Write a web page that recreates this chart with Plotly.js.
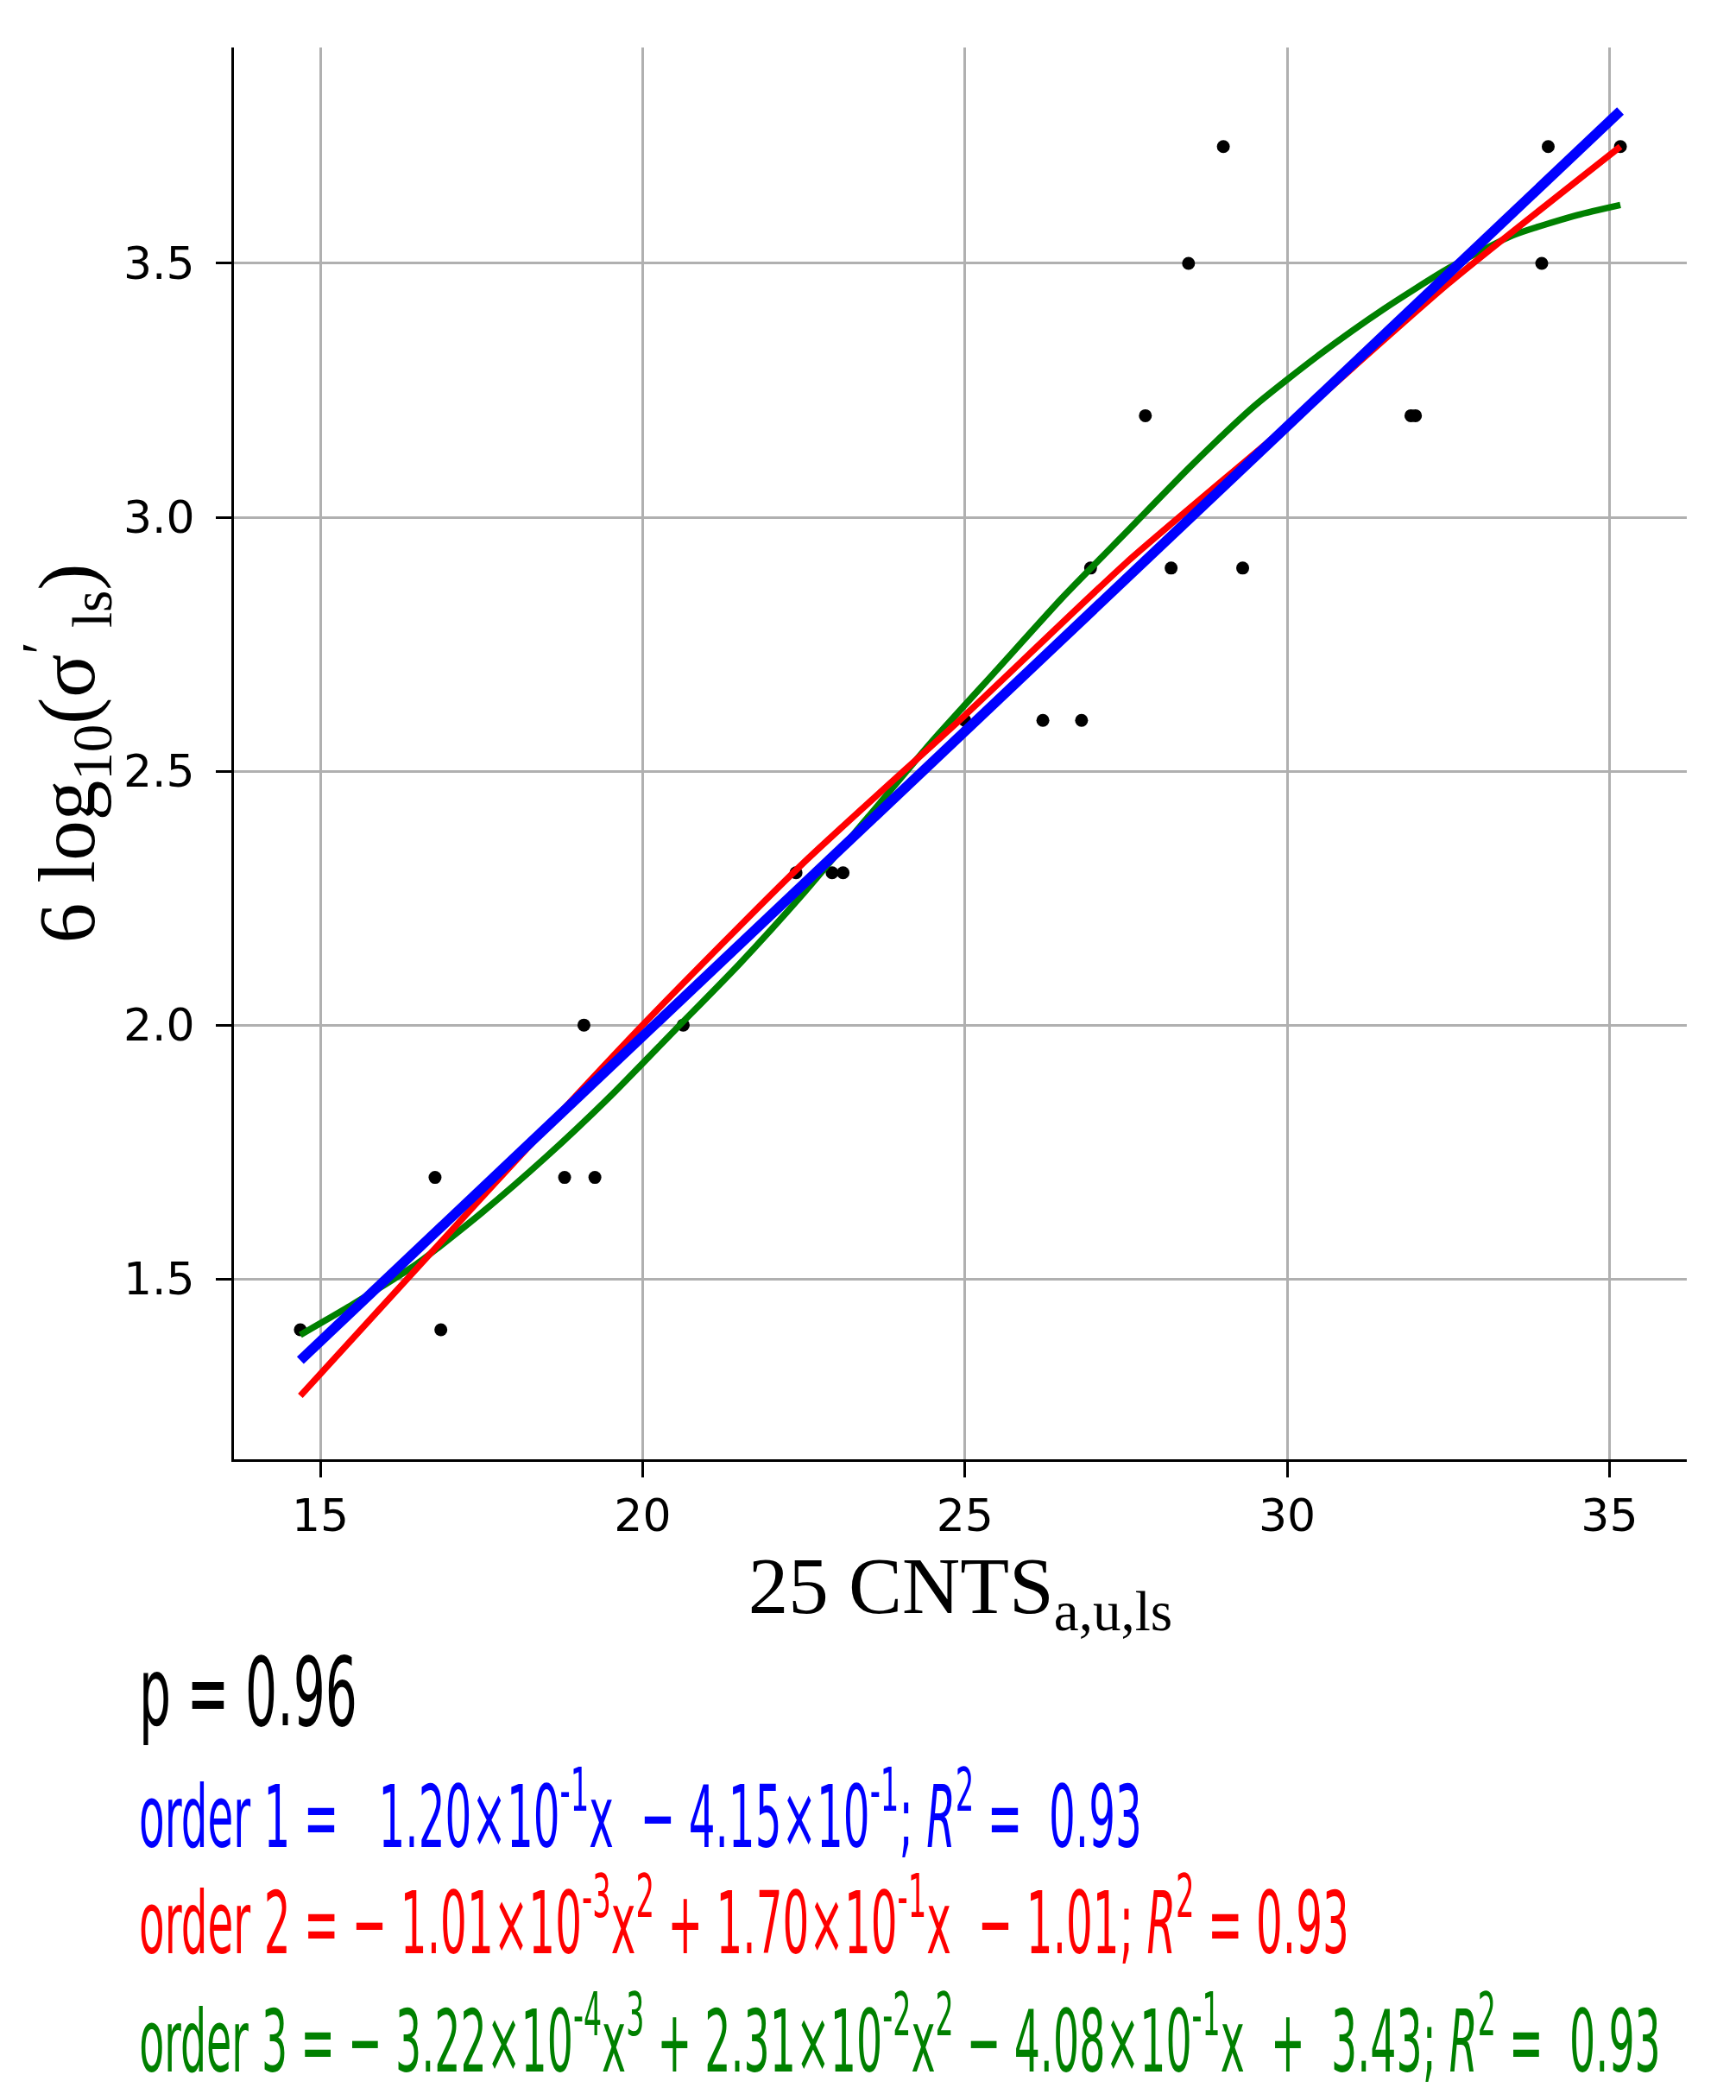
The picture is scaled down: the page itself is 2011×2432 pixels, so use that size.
<!DOCTYPE html>
<html>
<head>
<meta charset="utf-8">
<script src="https://cdn.plot.ly/plotly-3.0.1.min.js"></script>
<style>
  html, body { margin: 0; padding: 0; background: #ffffff; }
  #chart { width: 2011px; height: 2432px; }
</style>
</head>
<body>
<div id="chart"></div>
<script>
// ---- observed data points ----
const obsX = [14.69, 16.87, 16.78, 18.79, 19.26, 19.09, 20.63, 22.38, 22.94, 23.11, 25.00, 26.21, 26.81, 26.95, 28.20, 29.31, 27.80, 31.92, 31.99, 28.47, 33.95, 29.01, 34.05, 35.17];
const obsY = [1.40, 1.40, 1.70, 1.70, 1.70, 2.00, 2.00, 2.30, 2.30, 2.30, 2.60, 2.60, 2.60, 2.90, 2.90, 2.90, 3.20, 3.20, 3.20, 3.50, 3.50, 3.73, 3.73, 3.73];

// ---- fitted curves ----
const order1X = [14.69, 35.17];
const order1Y = [1.34, 3.80];

const order2X = [14.69, 17.5, 20.0, 22.5, 25.0, 27.5, 30.0, 32.5, 35.17];
const order2Y = [1.27, 1.66, 2.00, 2.32, 2.61, 2.91, 3.18, 3.46, 3.73];

const order3X = [14.69, 15.5, 16.5, 17.5, 18.5, 19.5, 20.5, 21.5, 22.5, 23.5, 24.5, 25.5, 26.5, 27.5, 28.5, 29.5, 30.5, 31.5, 32.5, 33.5, 34.5, 35.17];
const order3Y = [1.39, 1.45, 1.53, 1.63, 1.74, 1.86, 1.99, 2.12, 2.26, 2.41, 2.56, 2.70, 2.84, 2.97, 3.10, 3.22, 3.32, 3.41, 3.49, 3.555, 3.595, 3.615];

// ---- ticks ----
const xTicks = [15, 20, 25, 30, 35];
const yTicks = [1.5, 2.0, 2.5, 3.0, 3.5];

// ---- texts ----
const xTitle = "25 CNTS<sub>a,u,ls</sub>";
const yTitle = "6 log<sub>10</sub>(σ<sup>′</sup><sub> ls</sub>)";
const pText = "p = 0.96";
const eq1 = "order 1 =   1.20×10<sup>-1</sup>x  − 4.15×10<sup>-1</sup>; <i>R</i><sup>2</sup> =  0.93";
const eq2 = "order 2 = − 1.01×10<sup>-3</sup>x<sup>2</sup> + 1.70×10<sup>-1</sup>x  − 1.01; <i>R</i><sup>2</sup> = 0.93";
const eq3 = "order 3 = − 3.22×10<sup>-4</sup>x<sup>3</sup> + 2.31×10<sup>-2</sup>x<sup>2</sup> − 4.08×10<sup>-1</sup>x  +  3.43; <i>R</i><sup>2</sup> =  0.93";

// styling / placement of the text block (pixels of the 2011x2432 figure)
const textLeft = 160;
const textWidths = [253, 1162, 1402, 1763];
const textCenters = [1960, 2097, 2220, 2357];

const narrow = "DejaVu Sans, sans-serif";
const serif = "Liberation Serif, DejaVu Serif, serif";

const traces = [
  { x: obsX, y: obsY, type: "scatter", mode: "markers",
    marker: { color: "#000000", size: 15 }, showlegend: false, name: "data" },
  { x: order3X, y: order3Y, type: "scatter", mode: "lines",
    line: { color: "#008000", width: 7.5, shape: "spline", smoothing: 0.6 }, showlegend: false, name: "order 3" },
  { x: order2X, y: order2Y, type: "scatter", mode: "lines",
    line: { color: "#ff0000", width: 7.5, shape: "spline", smoothing: 0.6 }, showlegend: false, name: "order 2" },
  { x: order1X, y: order1Y, type: "scatter", mode: "lines",
    line: { color: "#0000ff", width: 11.5 }, showlegend: false, name: "order 1" }
];

const plotTop = 55, plotBottom = 1690, plotLeft = 271, plotRight = 1954;
const ph = plotBottom - plotTop, pw = plotRight - plotLeft;
function py(pix) { return (plotBottom - pix) / ph; }
function px(pix) { return (pix - plotLeft) / pw; }

const textItems = [
  { text: pText, color: "#000000", size: 110 },
  { text: eq1, color: "#0000ff", size: 100 },
  { text: eq2, color: "#ff0000", size: 100 },
  { text: eq3, color: "#008000", size: 100 }
];

const layout = {
  width: 2011, height: 2432,
  paper_bgcolor: "#ffffff", plot_bgcolor: "#ffffff",
  margin: { l: plotLeft, r: 2011 - plotRight, t: plotTop, b: 2432 - plotBottom, pad: 0 },
  showlegend: false,
  xaxis: {
    range: [13.66, 36.2], tickvals: xTicks, ticktext: xTicks.map(String),
    showgrid: true, gridcolor: "#b0b0b0", gridwidth: 3, zeroline: false,
    showline: true, linecolor: "#000000", linewidth: 3, mirror: false,
    ticks: "outside", ticklen: 18, tickwidth: 3, tickcolor: "#000000",
    tickfont: { family: "DejaVu Sans, sans-serif", size: 52, color: "#000000" },
    ticklabelstandoff: 0,
    title: { text: xTitle, font: { family: serif, size: 93, color: "#000000" }, standoff: 16 }
  },
  yaxis: {
    range: [1.145, 3.925], tickvals: yTicks, ticktext: yTicks.map(v => v.toFixed(1)),
    showgrid: true, gridcolor: "#b0b0b0", gridwidth: 3, zeroline: false,
    showline: true, linecolor: "#000000", linewidth: 3, mirror: false,
    ticks: "outside", ticklen: 18, tickwidth: 3, tickcolor: "#000000",
    tickfont: { family: "DejaVu Sans, sans-serif", size: 52, color: "#000000" },
    ticklabelstandoff: 14,
    title: { text: yTitle, font: { family: serif, size: 93, color: "#000000" }, standoff: 0 }
  },
  annotations: textItems.map((t, i) => ({
    text: t.text, xref: "paper", yref: "paper", x: px(textLeft), y: py(textCenters[i]),
    xanchor: "left", yanchor: "middle", showarrow: false, borderpad: 0,
    font: { family: narrow, size: t.size, color: t.color }
  }))
};

Plotly.newPlot("chart", traces, layout, { displayModeBar: false, staticPlot: true }).then(gd => {
  // the reference uses a strongly condensed face: squeeze each text line horizontally
  textWidths.forEach((w, i) => {
    const el = gd.querySelector('.annotation[data-index="' + i + '"] .annotation-text');
    if (!el) return;
    const bb = el.getBBox();
    if (!bb.width) return;
    const s = w / bb.width;
    el.setAttribute("transform",
      "translate(" + bb.x + ",0) scale(" + s + ",1) translate(" + (-bb.x) + ",0)");
  });
});
</script>
</body>
</html>
